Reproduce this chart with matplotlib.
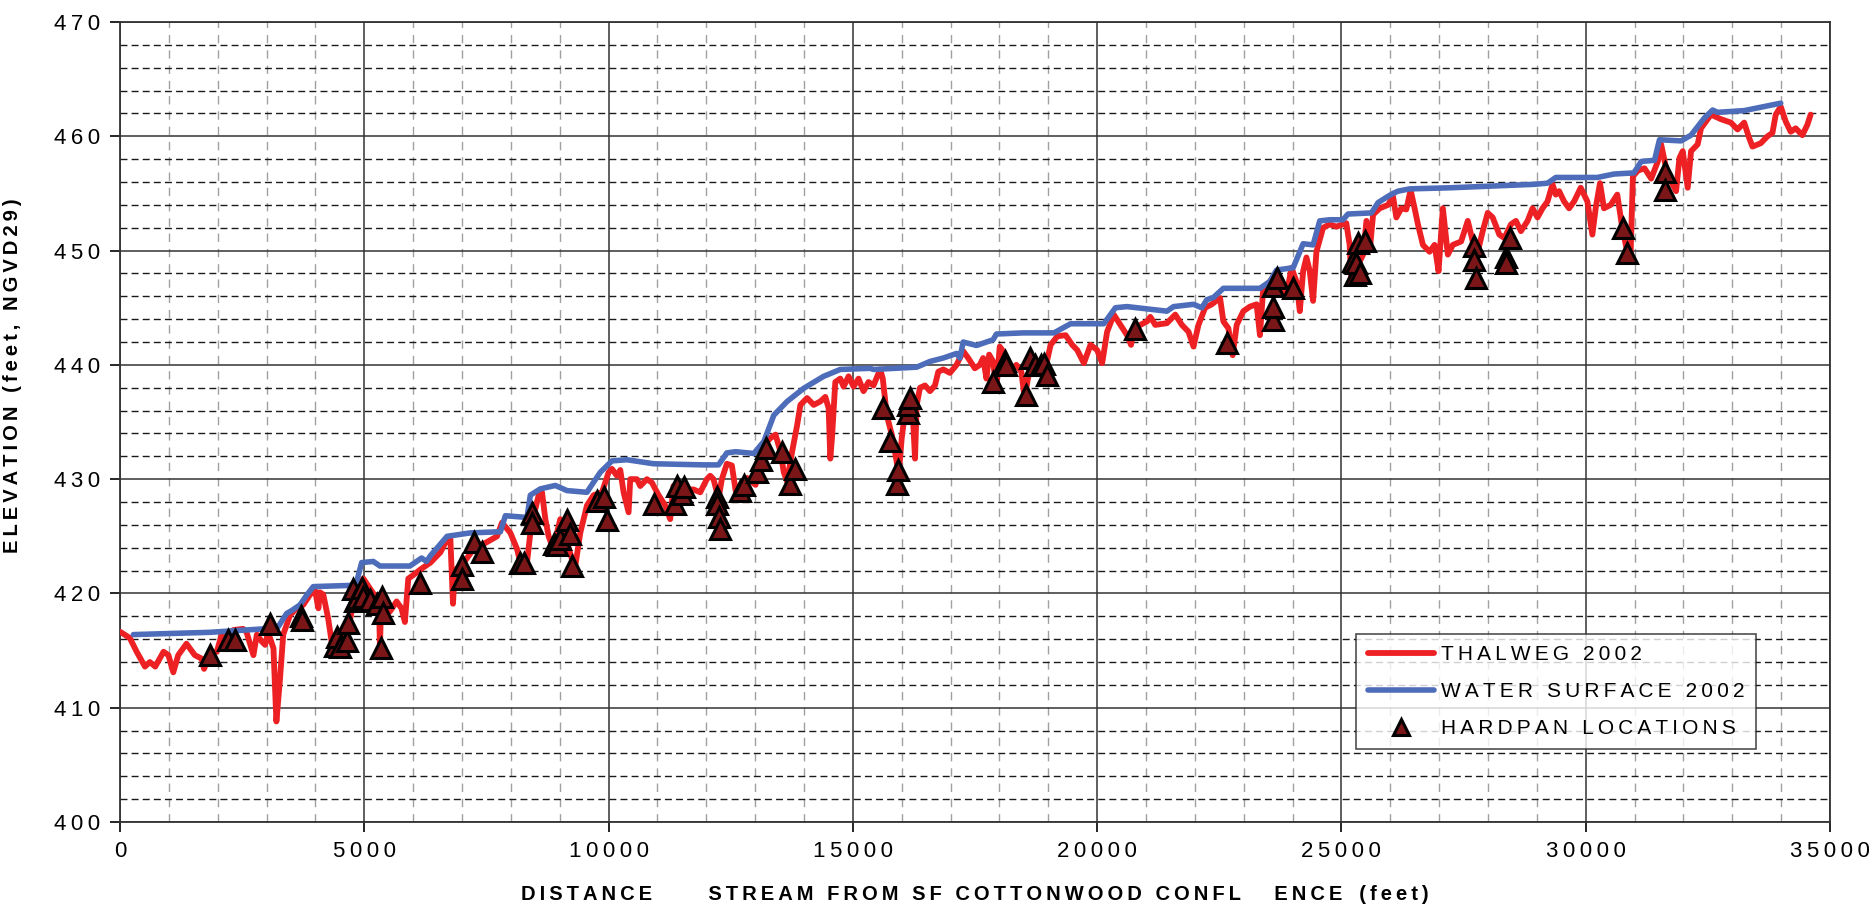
import matplotlib
matplotlib.use("Agg")
import matplotlib.pyplot as plt
from matplotlib.ticker import MultipleLocator

# thalweg 2002 (distance ft, elevation ft)
thalweg_x = [0, 200, 340, 510, 610, 720, 890, 990, 1090, 1190, 1360, 1530, 1670, 1720, 1840, 1980,
             2080, 2220, 2320, 2520, 2590, 2730, 2800, 2900, 2970, 3030, 3140, 3200, 3270, 3340,
             3480, 3610, 3750, 3890, 3990, 4060, 4090, 4160, 4260, 4330, 4430, 4570, 4670, 4740,
             4810, 4980, 5120, 5250, 5300, 5320, 5340, 5520, 5660, 5760, 5830, 5900, 6000, 6148,
             6353, 6557, 6694, 6760, 6815, 6850, 7034, 7240, 7512, 7716, 7819, 7989, 8125, 8193,
             8330, 8398, 8500, 8569, 8637, 8705, 8773, 8841, 8943, 9011, 9114, 9250, 9318, 9420,
             9557, 9693, 9864, 10000, 10068, 10170, 10239, 10307, 10409, 10443, 10579, 10648,
             10784, 10886, 11023, 11159, 11261, 11329, 11534, 11738, 11875, 12011, 12079, 12147,
             12250, 12318, 12420, 12523, 12600, 12702, 12838, 13008, 13178, 13314, 13416, 13518,
             13586, 13654, 13756, 13858, 13926, 14062, 14198, 14334, 14436, 14504, 14538, 14572,
             14640, 14742, 14810, 14912, 15014, 15116, 15218, 15320, 15422, 15558, 15612, 15694,
             15796, 15898, 15932, 16000, 16068, 16170, 16224, 16272, 16306, 16374, 16476, 16578,
             16680, 16748, 16850, 16986, 17122, 17190, 17258, 17360, 17496, 17598, 17666, 17734,
             17789, 17870, 17938, 18006, 18074, 18210, 18346, 18448, 18516, 18618, 18754, 18924,
             19048, 19184, 19354, 19490, 19592, 19728, 19864, 20000, 20102, 20204, 20340, 20476,
             20612, 20694, 20748, 20884, 21020, 21088, 21190, 21428, 21598, 21734, 21870, 21972,
             22074, 22210, 22346, 22516, 22584, 22686, 22774, 22856, 22992, 23128, 23264, 23332,
             23400, 23536, 23638, 23740, 23876, 23978, 24080, 24148, 24216, 24284, 24352, 24420,
             24488, 24624, 24760, 24896, 25100, 25168, 25202, 25240, 25308, 25444, 25512, 25580,
             25648, 25784, 25954, 26056, 26124, 26226, 26328, 26416, 26498, 26566, 26668, 26804,
             26906, 26988, 27076, 27178, 27280, 27450, 27586, 27688, 27790, 27892, 27994, 28096,
             28232, 28334, 28470, 28572, 28674, 28810, 28912, 29014, 29116, 29218, 29320, 29388,
             29456, 29558, 29660, 29762, 29898, 30034, 30136, 30204, 30292, 30374, 30510, 30646,
             30748, 30850, 30918, 30966, 31068, 31204, 31340, 31476, 31544, 31646, 31748, 31850,
             31918, 31986, 32088, 32156, 32292, 32360, 32564, 32768, 32972, 33108, 33244, 33346,
             33414, 33584, 33720, 33822, 33890, 33992, 34094, 34196, 34298, 34434, 34536, 34604]
thalweg_y = [416.65, 416.1, 414.9, 413.6, 414.0, 413.6, 414.9, 414.6, 413.1, 414.6, 415.6, 414.6,
             414.3, 413.4, 414.8, 414.9, 416.4, 416.5, 416.8, 416.9, 416.6, 414.6, 416.4, 415.8,
             415.5, 416.6, 415.2, 408.8, 412.3, 416.4, 418.1, 418.7, 419.0, 419.9, 420.3, 418.7,
             420.1, 419.9, 417.8, 415.8, 416.1, 416.2, 416.9, 418.4, 420.4, 421.3, 420.4, 419.6,
             419.0, 415.2, 418.7, 418.4, 419.3, 418.7, 417.5, 421.3, 421.6, 422.1, 422.7, 423.6,
             424.75, 424.9, 419.1, 422.0, 422.7, 423.9, 424.5, 425.0, 426.2, 425.3, 423.9, 422.7,
             422.7, 425.3, 427.4, 428.6, 428.85, 426.5, 425.0, 424.2, 425.3, 426.5, 425.0, 423.0,
             422.4, 425.3, 427.7, 428.6, 428.85, 430.6, 430.9, 430.3, 430.8, 428.85, 427.1, 430.0,
             430.0, 429.4, 430.0, 429.7, 428.6, 427.7, 426.5, 429.4, 429.1, 429.1, 428.85, 430.0,
             430.3, 430.0, 428.3, 430.0, 431.35, 431.2, 429.0, 429.5, 430.1, 429.5, 433.0, 433.6,
             433.9, 432.4, 430.6, 429.8, 432.4, 434.7, 436.5, 437.1, 436.5, 436.8, 437.2, 436.2,
             431.8, 433.6, 438.5, 438.8, 438.1, 439.0, 438.1, 438.8, 437.7, 438.5, 438.2, 439.6,
             438.8, 435.6, 433.9, 431.5, 430.1, 433.6, 435.9, 437.1, 435.9, 431.8, 436.5, 438.0,
             438.2, 437.7, 438.2, 439.4, 439.6, 439.3, 440.0, 440.6, 441.2, 440.6, 439.7, 440.0,
             440.6, 438.8, 440.9, 440.3, 438.0, 441.6, 441.2, 439.4, 440.0, 439.4, 437.1, 439.7,
             440.3, 439.4, 441.75, 442.5, 442.6, 441.75, 441.3, 440.15, 441.75, 441.3, 440.15,
             442.9, 444.4, 443.5, 442.6, 441.75, 443.2, 443.5, 443.8, 444.2, 443.5, 443.65, 444.4,
             443.5, 442.9, 441.6, 443.5, 445.0, 445.3, 445.85, 443.8, 443.2, 440.85, 443.5, 444.7,
             445.1, 445.3, 442.6, 446.7, 447.3, 447.9, 447.3, 446.1, 448.5, 447.3, 444.7, 448.2,
             449.4, 448.2, 445.6, 449.9, 452.0, 452.3, 452.1, 452.4, 450.5, 447.3, 447.3, 448.5,
             449.65, 452.6, 450.0, 453.15, 453.7, 454.0, 454.75, 452.9, 453.7, 453.6, 455.3,
             453.7, 452.3, 450.5, 449.9, 450.5, 448.2, 453.7, 449.65, 450.5, 450.8, 452.6, 450.8,
             449.9, 451.7, 453.3, 452.9, 451.4, 451.1, 452.3, 452.6, 451.7, 452.6, 453.7, 452.9,
             453.7, 454.3, 455.8, 454.9, 455.2, 454.3, 453.7, 454.3, 455.5, 454.3, 451.4, 453.7,
             455.9, 453.7, 454.0, 454.9, 452.0, 449.9, 449.5, 456.5, 457.0, 457.2, 456.3, 457.8,
             459.3, 457.2, 456.05, 455.2, 458.1, 458.7, 455.5, 458.7, 459.3, 460.7, 461.9, 461.5,
             461.2, 460.6, 461.2, 459.85, 459.1, 459.4, 460.0, 460.3, 461.9, 462.6, 461.3, 460.4,
             460.7, 460.1, 461.0, 461.9]

# water surface 2002
water_x = [273, 1841, 2933, 3240, 3410, 3512, 3683, 3820, 3955, 4706, 4842, 4945, 5183, 5320, 5933,
           6172, 6274, 6353, 6694, 7171, 7785, 7887, 8330, 8398, 8603, 8909, 9148, 9557, 9625,
           9830, 10068, 10375, 10920, 11943, 12250, 12420, 12600, 12973, 13178, 13382, 13654,
           13994, 14402, 14742, 15354, 15422, 16306, 16578, 16850, 17122, 17190, 17258, 17530,
           17870, 17938, 18482, 19116, 19456, 20136, 20374, 20612, 21428, 21564, 21972, 22142,
           22244, 22380, 22584, 23332, 23536, 23672, 24012, 24216, 24420, 24556, 24760, 25032,
           25134, 25614, 25750, 25954, 26056, 26158, 26396, 27246, 28946, 29218, 29388, 30238,
           30578, 30986, 31136, 31408, 31510, 31952, 32156, 32428, 32598, 32700, 33244, 33992]
water_y = [416.4, 416.6, 416.9, 417.1, 418.25, 418.5, 419.0, 419.85, 420.6, 420.7, 421.0, 422.7,
           422.8, 422.4, 422.4, 423.1, 422.8, 423.3, 425.0, 425.3, 425.4, 426.8, 426.65, 428.6,
           429.15, 429.45, 429.0, 428.85, 429.3, 430.6, 431.6, 431.7, 431.35, 431.25, 431.25,
           432.3, 432.4, 432.25, 433.3, 435.6, 436.8, 437.95, 439.0, 439.6, 439.7, 439.6, 439.8,
           440.3, 440.6, 441.0, 440.6, 442.0, 441.7, 442.2, 442.7, 442.8, 442.8, 443.6, 443.6,
           445.0, 445.1, 444.7, 445.1, 445.3, 445.0, 445.7, 445.9, 446.7, 446.7, 447.3, 448.3,
           448.5, 450.6, 450.5, 452.6, 452.7, 452.7, 453.2, 453.3, 454.2, 454.75, 455.0, 455.2,
           455.4, 455.5, 455.8, 455.9, 456.4, 456.4, 456.7, 456.8, 457.8, 457.9, 459.7, 459.6,
           460.1, 461.6, 462.3, 462.1, 462.25, 462.9]

# hardpan locations
hardpan_x = [1841, 2217, 2353, 3069, 3696, 3720, 4399, 4433, 4501, 4638, 4672, 4774, 4808, 4842,
             4945, 4979, 5115, 5251, 5333, 5354, 5388, 6138, 7000, 7000, 7239, 7410, 8193, 8262,
             8432, 8432, 8875, 8943, 9011, 9148, 9216, 9250, 9761, 9898, 9966, 10920, 11363,
             11398, 11500, 11534, 12216, 12216, 12250, 12284, 12693, 12770, 13042, 13110, 13212,
             13552, 13722, 13824, 15612, 15762, 15898, 15932, 16136, 16136, 16170, 17870, 18108,
             18142, 18550, 18618, 18720, 18856, 18912, 18980, 20782, 22652, 23604, 23604, 23604,
             23672, 24012, 25236, 25270, 25338, 25308, 25376, 25478, 27722, 27722, 27756, 28368,
             28368, 28456, 30768, 30850, 31632, 31632]
hardpan_y = [414.6, 415.9, 415.9, 417.3, 418.0, 417.7, 415.4, 416.2, 415.3, 415.8, 417.4, 420.4,
             419.3, 419.6, 420.5, 419.7, 419.4, 419.1, 415.2, 419.7, 418.25, 420.9, 422.5, 421.3,
             424.5, 423.6, 422.7, 422.7, 427.0, 426.2, 424.3, 424.2, 424.75, 426.4, 425.2, 422.4,
             428.1, 428.4, 426.4, 427.8, 427.8, 429.4, 428.7, 429.3, 428.4, 427.8, 426.7, 425.6,
             429.0, 429.5, 430.6, 431.7, 432.7, 432.4, 429.6, 430.9, 436.2, 433.3, 429.6, 430.8,
             435.8, 436.5, 437.1, 438.5, 440.3, 440.0, 437.4, 440.6, 440.0, 440.0, 440.1, 439.1,
             443.1, 441.9, 443.9, 445.1, 446.9, 447.6, 446.7, 449.1, 447.9, 450.7, 448.9, 448.0,
             450.8, 450.4, 449.2, 447.6, 449.4, 448.9, 451.1, 452.0, 449.8, 456.9, 455.3]

x_ticks = [0, 5000, 10000, 15000, 20000, 25000, 30000, 35000]
y_ticks = [400, 410, 420, 430, 440, 450, 460, 470]

FONT = ["Liberation Sans", "DejaVu Sans"]
plt.rcParams["font.family"] = FONT


def spaced(s):
    # wide character spacing like the original
    return "\u2009".join(s)


fig = plt.figure(figsize=(18.7, 9.07), dpi=100)
ax = fig.add_axes([0.0642, 0.0937, 0.9144, 0.882])

ax.plot(thalweg_x, thalweg_y, color="#ED2024", lw=4.2, solid_joinstyle="round",
        solid_capstyle="round", label=spaced("THALWEG 2002"), zorder=3)
ax.plot(water_x, water_y, color="#4D6CB9", lw=4.0, solid_joinstyle="round",
        solid_capstyle="round", label=spaced("WATER SURFACE 2002"), zorder=4)
ax.plot(hardpan_x, hardpan_y, ls="none", marker="^", ms=14, mfc="#7A1618", mec="black",
        mew=2.2, label=spaced("HARDPAN LOCATIONS"), zorder=5)

ax.set_xlim(0, 35000)
ax.set_ylim(400, 470)
ax.set_xticks(x_ticks)
ax.set_xticklabels([spaced(str(v)) for v in x_ticks])
ax.set_yticks(y_ticks)
ax.set_yticklabels([spaced(str(v)) for v in y_ticks])
ax.xaxis.set_minor_locator(MultipleLocator(1000))
ax.yaxis.set_minor_locator(MultipleLocator(2))
ax.tick_params(which="major", direction="out", length=7, width=1.2, labelsize=16, pad=7)
ax.tick_params(which="minor", length=0)

ax.grid(which="major", color="#333333", lw=1.1)
ax.xaxis.grid(which="minor", color="#a0a0a0", lw=1, ls=(0, (6, 5)))
ax.yaxis.grid(which="minor", color="#1a1a1a", lw=1, ls=(0, (5, 3)))
ax.set_axisbelow(True)
for sp in ax.spines.values():
    sp.set_color("#333333")
    sp.set_linewidth(1.3)

ax.set_xlabel(spaced("DISTANCE") + "          " + spaced("STREAM FROM SF COTTONWOOD CONFL")
              + "      " + spaced("ENCE") + "   " + spaced("(feet)"),
              fontsize=14.5, fontweight="bold")
ax.xaxis.set_label_coords(0.5, -0.079)
ax.set_ylabel(spaced("ELEVATION (feet, NGVD29)"), fontsize=14.5, fontweight="bold")
ax.yaxis.set_label_coords(-0.0576, 0.5575)

leg = ax.legend(loc="upper left", bbox_to_anchor=(0.723, 0.235), borderaxespad=0,
                fontsize=15, handlelength=3.2, handletextpad=0.3, labelspacing=0.85,
                frameon=True, fancybox=False, borderpad=0.55, markerscale=0.8)
leg.get_frame().set_edgecolor("#222222")
leg.get_frame().set_linewidth(1.2)

fig.savefig("out.png", dpi=100)
